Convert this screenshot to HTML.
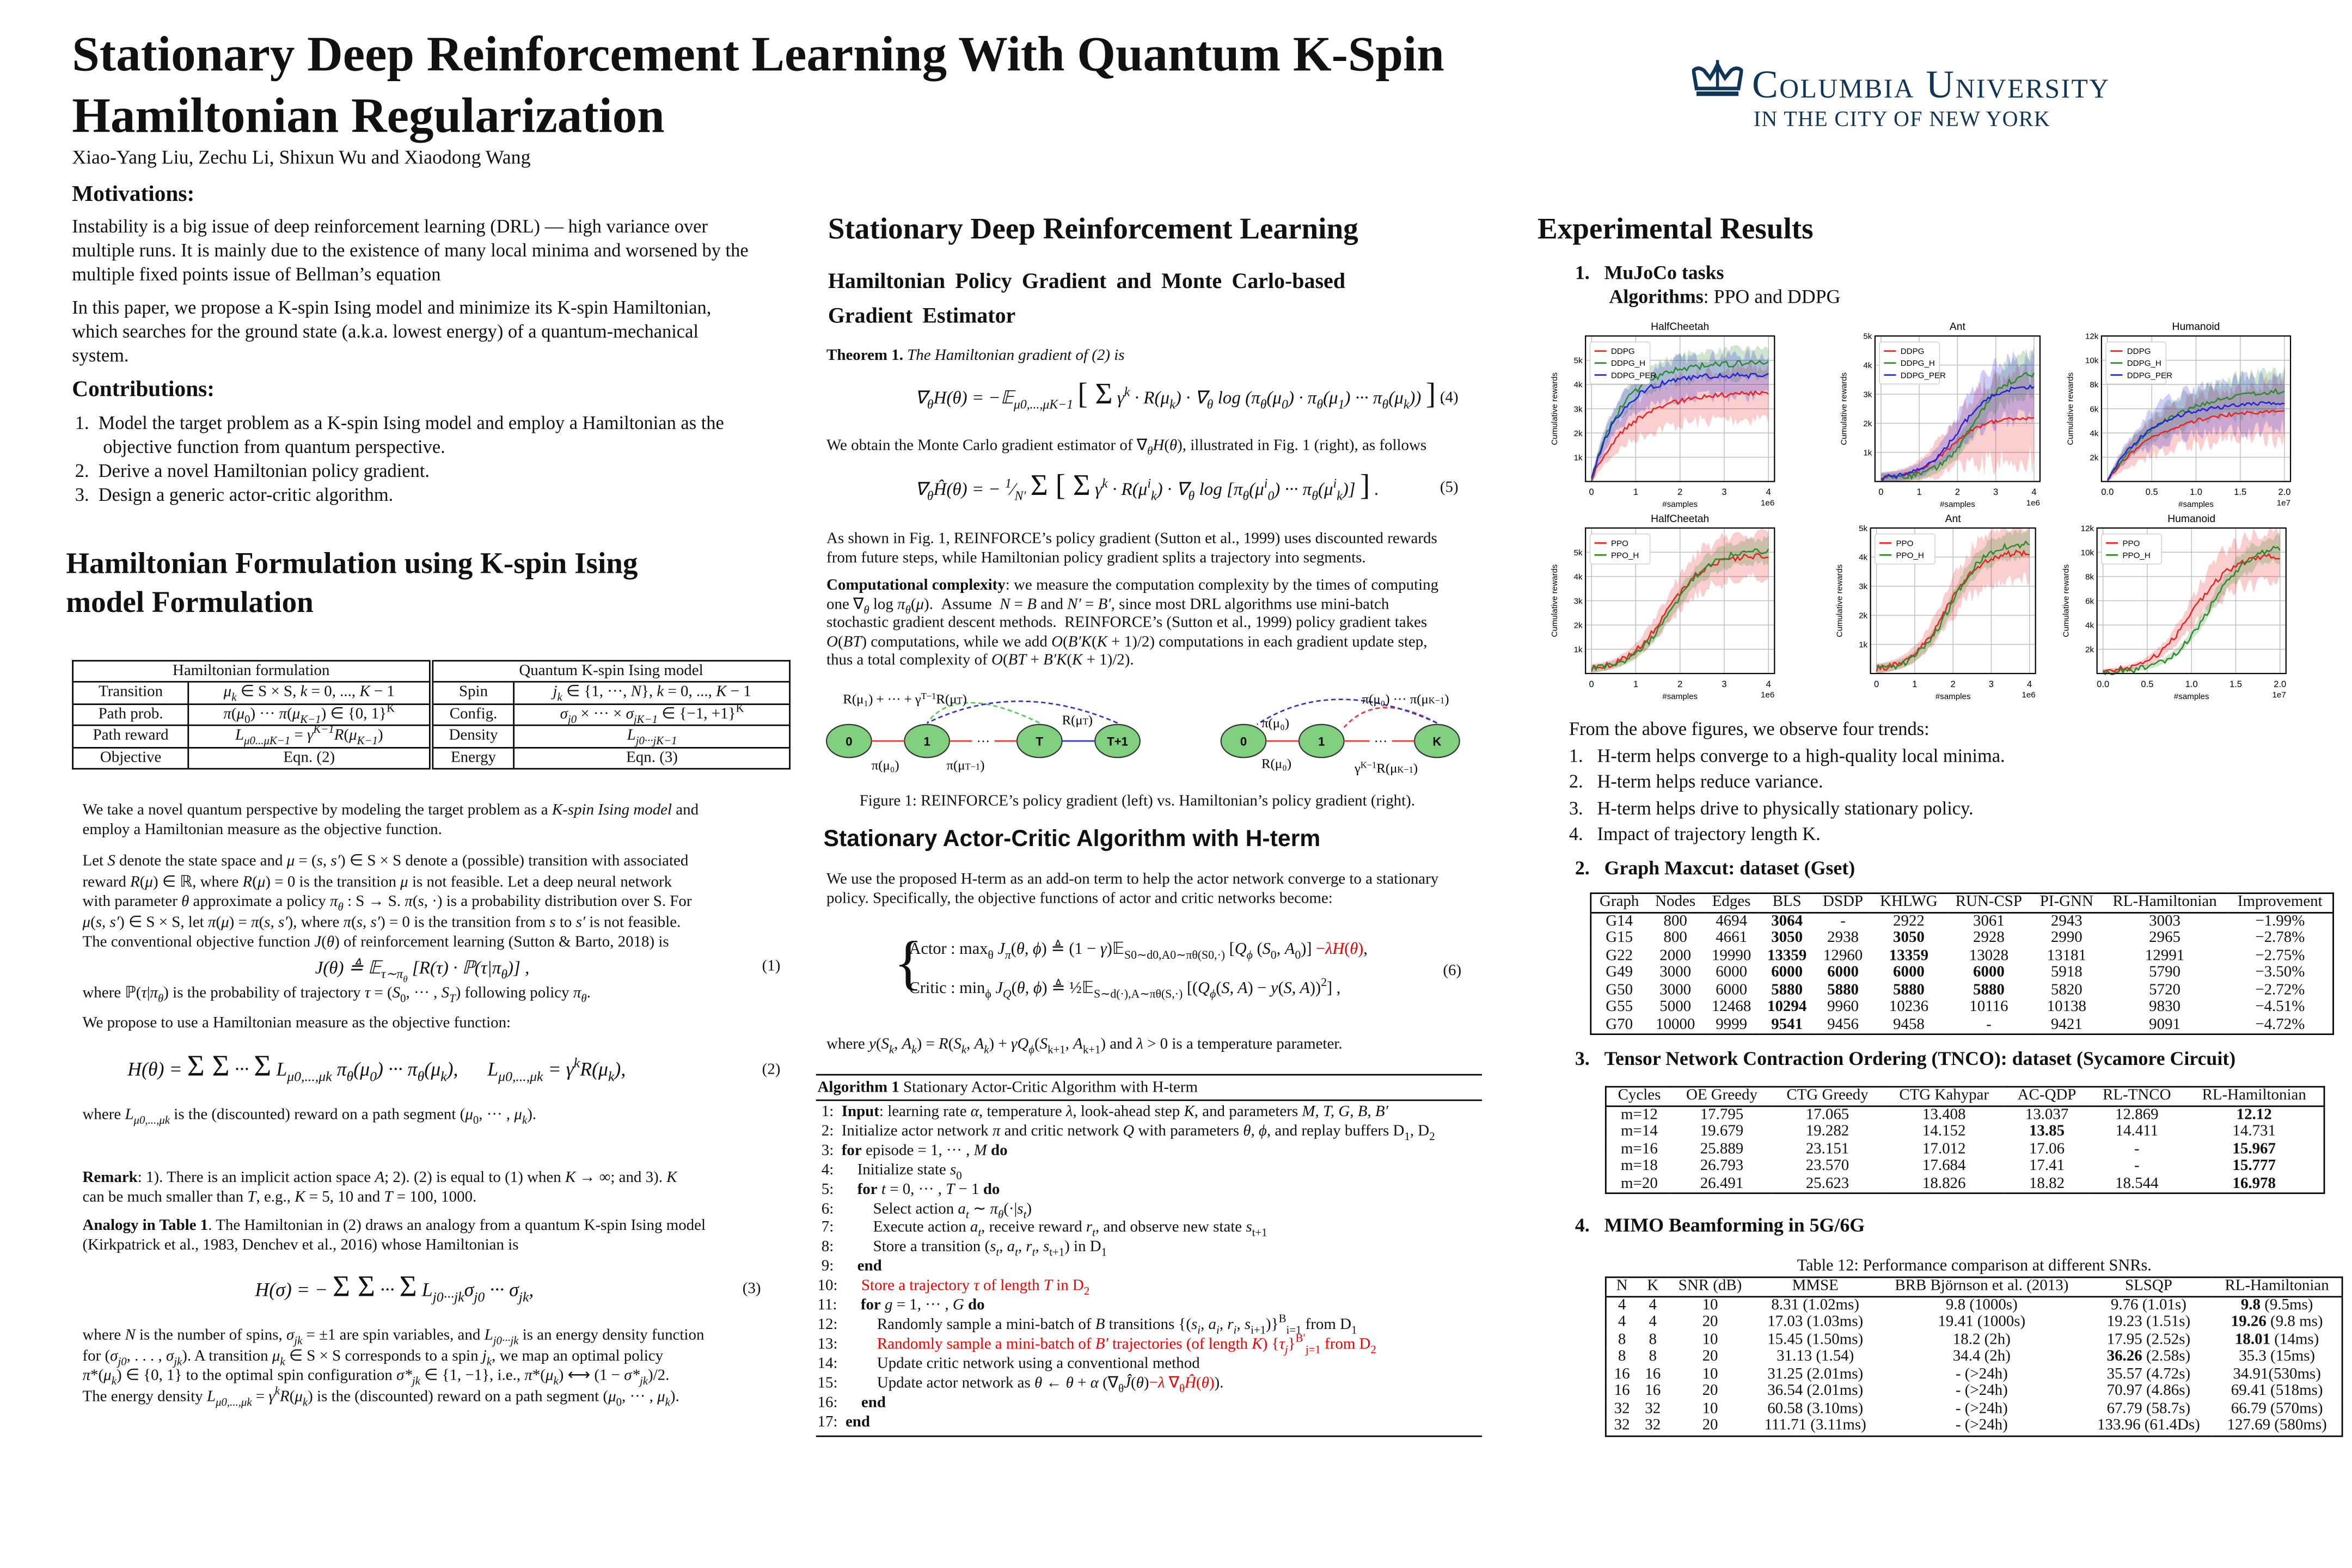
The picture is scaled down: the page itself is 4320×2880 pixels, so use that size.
<!DOCTYPE html>
<html><head><meta charset="utf-8">
<style>
html,body{margin:0;padding:0;background:#fff;}
body{width:4320px;height:2880px;overflow:hidden;position:relative;}
#s{position:absolute;left:0;top:0;width:1568px;height:1045px;transform:scale(2.7551);transform-origin:0 0;font-family:"Liberation Serif",serif;color:#111;}
sub,sup{line-height:0;font-size:72%;}
.a{position:absolute;white-space:nowrap;}
.h1{font-weight:bold;font-size:33px;}
.h2{font-weight:bold;font-size:20px;}
.h3{font-weight:bold;font-size:15px;}
.p{font-size:12.5px;line-height:16px;}
.q{font-size:10.5px;line-height:12.5px;}
.eq{font-size:12px;font-style:italic;line-height:14px;}
.big{font-size:20px;font-style:normal;line-height:0;}
table{border-collapse:collapse;}
.t td{padding:0 4px;text-align:center;font-size:10.5px;line-height:11.5px;}
.t1 td{line-height:13.4px;}
.t{border-top:1px solid #000;border-bottom:1px solid #000;}
.red{color:#e00;}
</style></head><body><div id="s">

<div class="a h1" style="left:48px;top:19px;">Stationary Deep Reinforcement Learning With Quantum K-Spin</div>
<div class="a h1" style="left:48px;top:60px;">Hamiltonian Regularization</div>
<div class="a" style="left:48px;top:97px;font-size:13px;">Xiao-Yang Liu, Zechu Li, Shixun Wu and Xiaodong Wang</div>

<svg class="a" style="left:1128px;top:40px" width="34" height="26" viewBox="0 0 34 26"><g fill="#0f3558"><rect x="3" y="21" width="28" height="3"/><path d="M3 19 L1 7 Q4 4 8 7 L12 12 L15 7 L17 3 L19 7 L22 12 L26 7 Q30 4 33 7 L31 19 Z" fill="none" stroke="#0f3558" stroke-width="2.4"/><rect x="16" y="0" width="2" height="19"/></g></svg>
<div class="a" style="left:1168px;top:42px;font-size:26px;color:#0f3558;letter-spacing:0.9px;font-variant:small-caps;">Columbia University</div>
<div class="a" style="left:1169px;top:72px;font-size:14.5px;color:#0f3558;letter-spacing:0.5px;">IN THE CITY OF NEW YORK</div>

<!-- column 1 -->
<div class="a h3" style="left:48px;top:122px;">Motivations:</div>
<div class="a p" style="left:48px;top:143px;">Instability is a big issue of deep reinforcement learning (DRL) — high variance over<br>multiple runs. It is mainly due to the existence of many local minima and worsened by the<br>multiple fixed points issue of Bellman’s equation</div>
<div class="a p" style="left:48px;top:197px;">In this paper, we propose a K-spin Ising model and minimize its K-spin Hamiltonian,<br>which searches for the ground state (a.k.a. lowest energy) of a quantum-mechanical<br>system.</div>
<div class="a h3" style="left:48px;top:252px;">Contributions:</div>
<div class="a p" style="left:50px;top:274px;">1.&nbsp;&nbsp;Model the target problem as a K-spin Ising model and employ a Hamiltonian as the<br>&nbsp;&nbsp;&nbsp;&nbsp;&nbsp;&nbsp;objective function from quantum perspective.<br>2.&nbsp;&nbsp;Derive a novel Hamiltonian policy gradient.<br>3.&nbsp;&nbsp;Design a generic actor-critic algorithm.</div>
<div class="a h2" style="left:44px;top:363px;line-height:26px;">Hamiltonian Formulation using K-spin Ising<br>model Formulation</div>

<div class="a" style="left:48px;top:440px;">
<table class="t t1" style="width:479px;border:1px solid #000;">
<tr style="border-bottom:1px solid #000"><td colspan="2" style="border-right:3px double #000">Hamiltonian formulation</td><td colspan="2">Quantum K-spin Ising model</td></tr>
<tr><td style="border-right:1px solid #000;border-bottom:1px solid #000">Transition</td><td style="border-right:3px double #000;border-bottom:1px solid #000"><i>μ<sub>k</sub></i> ∈ S × S, <i>k</i> = 0, ..., <i>K</i> − 1</td><td style="border-right:1px solid #000;border-bottom:1px solid #000">Spin</td><td style="border-bottom:1px solid #000"><i>j<sub>k</sub></i> ∈ {1, ···, <i>N</i>}, <i>k</i> = 0, ..., <i>K</i> − 1</td></tr>
<tr><td style="border-right:1px solid #000;border-bottom:1px solid #000">Path prob.</td><td style="border-right:3px double #000;border-bottom:1px solid #000"><i>π</i>(<i>μ</i><sub>0</sub>) ··· <i>π</i>(<i>μ<sub>K−1</sub></i>) ∈ {0, 1}<sup>K</sup></td><td style="border-right:1px solid #000;border-bottom:1px solid #000">Config.</td><td style="border-bottom:1px solid #000"><i>σ<sub>j0</sub></i> × ··· × <i>σ<sub>jK−1</sub></i> ∈ {−1, +1}<sup>K</sup></td></tr>
<tr><td style="border-right:1px solid #000;border-bottom:1px solid #000">Path reward</td><td style="border-right:3px double #000;border-bottom:1px solid #000"><i>L<sub>μ0...μK−1</sub></i> = <i>γ<sup>K−1</sup>R</i>(<i>μ<sub>K−1</sub></i>)</td><td style="border-right:1px solid #000;border-bottom:1px solid #000">Density</td><td style="border-bottom:1px solid #000"><i>L<sub>j0···jK−1</sub></i></td></tr>
<tr><td style="border-right:1px solid #000">Objective</td><td style="border-right:3px double #000">Eqn. (2)</td><td style="border-right:1px solid #000">Energy</td><td>Eqn. (3)</td></tr>
</table></div>

<div class="a q" style="left:55px;top:535px;">We take a novel quantum perspective by modeling the target problem as a <i>K-spin Ising model</i> and<br>employ a Hamiltonian measure as the objective function.</div>
<div class="a q" style="left:55px;top:568px;line-height:13.5px;">Let <i>S</i> denote the state space and <i>μ</i> = (<i>s, s′</i>) ∈ S × S denote a (possible) transition with associated<br>reward <i>R</i>(<i>μ</i>) ∈ ℝ, where <i>R</i>(<i>μ</i>) = 0 is the transition <i>μ</i> is not feasible. Let a deep neural network<br>with parameter <i>θ</i> approximate a policy <i>π<sub>θ</sub></i> : S → S. <i>π</i>(<i>s</i>, ·) is a probability distribution over S. For<br><i>μ</i>(<i>s, s′</i>) ∈ S × S, let <i>π</i>(<i>μ</i>) = <i>π</i>(<i>s, s′</i>), where <i>π</i>(<i>s, s′</i>) = 0 is the transition from <i>s</i> to <i>s′</i> is not feasible.<br>The conventional objective function <i>J</i>(<i>θ</i>) of reinforcement learning (Sutton &amp; Barto, 2018) is</div>
<div class="a eq" style="left:210px;top:638px;">J(θ) ≜ 𝔼<sub>τ∼π<sub>θ</sub></sub> [R(τ) · ℙ(τ|π<sub>θ</sub>)] ,</div>
<div class="a q" style="left:508px;top:639px;">(1)</div>
<div class="a q" style="left:55px;top:657px;">where ℙ(<i>τ</i>|<i>π<sub>θ</sub></i>) is the probability of trajectory <i>τ</i> = (<i>S</i><sub>0</sub>, ··· , <i>S<sub>T</sub></i>) following policy <i>π<sub>θ</sub></i>.</div>
<div class="a q" style="left:55px;top:677px;">We propose to use a Hamiltonian measure as the objective function:</div>
<div class="a eq" style="left:85px;top:706px;font-size:13px;">H(θ) = <span class="big">Σ Σ</span> ··· <span class="big">Σ</span> L<sub>μ0,...,μk</sub> π<sub>θ</sub>(μ<sub>0</sub>) ··· π<sub>θ</sub>(μ<sub>k</sub>),&nbsp;&nbsp;&nbsp;&nbsp;&nbsp; L<sub>μ0,...,μk</sub> = γ<sup>k</sup>R(μ<sub>k</sub>),</div>
<div class="a q" style="left:508px;top:708px;">(2)</div>
<div class="a q" style="left:55px;top:738px;">where <i>L<sub>μ0,...,μk</sub></i> is the (discounted) reward on a path segment (<i>μ</i><sub>0</sub>, ··· , <i>μ<sub>k</sub></i>).</div>
<div class="a q" style="left:55px;top:780px;"><b>Remark</b>: 1). There is an implicit action space <i>A</i>; 2). (2) is equal to (1) when <i>K</i> → ∞; and 3). <i>K</i><br>can be much smaller than <i>T</i>, e.g., <i>K</i> = 5, 10 and <i>T</i> = 100, 1000.</div>
<div class="a q" style="left:55px;top:812px;"><b>Analogy in Table 1</b>. The Hamiltonian in (2) draws an analogy from a quantum K-spin Ising model<br>(Kirkpatrick et al., 1983, Denchev et al., 2016) whose Hamiltonian is</div>
<div class="a eq" style="left:170px;top:853px;font-size:13px;">H(σ) = − <span class="big">Σ Σ</span> ··· <span class="big">Σ</span> L<sub>j0···jk</sub>σ<sub>j0</sub> ··· σ<sub>jk</sub>,</div>
<div class="a q" style="left:495px;top:854px;">(3)</div>
<div class="a q" style="left:55px;top:884px;line-height:13.5px;">where <i>N</i> is the number of spins, <i>σ<sub>jk</sub></i> = ±1 are spin variables, and <i>L<sub>j0···jk</sub></i> is an energy density function<br>for (<i>σ<sub>j0</sub></i>, . . . , <i>σ<sub>jk</sub></i>). A transition <i>μ<sub>k</sub></i> ∈ S × S corresponds to a spin <i>j<sub>k</sub></i>, we map an optimal policy<br><i>π</i>*(<i>μ<sub>k</sub></i>) ∈ {0, 1} to the optimal spin configuration <i>σ*<sub>jk</sub></i> ∈ {1, −1}, i.e., <i>π</i>*(<i>μ<sub>k</sub></i>) ⟷ (1 − <i>σ*<sub>jk</sub></i>)/2.<br>The energy density <i>L<sub>μ0,...,μk</sub></i> = <i>γ<sup>k</sup>R</i>(<i>μ<sub>k</sub></i>) is the (discounted) reward on a path segment (<i>μ</i><sub>0</sub>, ··· , <i>μ<sub>k</sub></i>).</div>

<!-- column 2 -->
<div class="a h2" style="left:552px;top:142px;">Stationary Deep Reinforcement Learning</div>
<div class="a" style="left:552px;top:177px;font-weight:bold;font-size:14.5px;line-height:23px;word-spacing:3px;">Hamiltonian Policy Gradient and Monte Carlo-based<br>Gradient Estimator</div>
<div class="a q" style="left:551px;top:232px;"><b>Theorem 1.</b> <i>The Hamiltonian gradient of (2) is</i></div>
<div class="a eq" style="left:610px;top:258px;">∇<sub>θ</sub>H(θ) = −𝔼<sub>μ0,...,μK−1</sub> <span class="big">[ Σ</span> γ<sup>k</sup> · R(μ<sub>k</sub>) · ∇<sub>θ</sub> log (π<sub>θ</sub>(μ<sub>0</sub>) · π<sub>θ</sub>(μ<sub>1</sub>) ··· π<sub>θ</sub>(μ<sub>k</sub>)) <span class="big">]</span> .</div>
<div class="a q" style="left:960px;top:260px;">(4)</div>
<div class="a q" style="left:551px;top:292px;">We obtain the Monte Carlo gradient estimator of ∇<i><sub>θ</sub>H</i>(<i>θ</i>), illustrated in Fig. 1 (right), as follows</div>
<div class="a eq" style="left:610px;top:319px;">∇<sub>θ</sub>Ĥ(θ) = − <sup>1</sup>⁄<sub>N′</sub> <span class="big">Σ [ Σ</span> γ<sup>k</sup> · R(μ<sup>i</sup><sub>k</sub>) · ∇<sub>θ</sub> log [π<sub>θ</sub>(μ<sup>i</sup><sub>0</sub>) ··· π<sub>θ</sub>(μ<sup>i</sup><sub>k</sub>)] <span class="big">]</span> .</div>
<div class="a q" style="left:960px;top:320px;">(5)</div>
<div class="a q" style="left:551px;top:354px;">As shown in Fig. 1, REINFORCE’s policy gradient (Sutton et al., 1999) uses discounted rewards<br>from future steps, while Hamiltonian policy gradient splits a trajectory into segments.</div>
<div class="a q" style="left:551px;top:385px;"><b>Computational complexity</b>: we measure the computation complexity by the times of computing<br>one ∇<sub><i>θ</i></sub> log <i>π<sub>θ</sub></i>(<i>μ</i>). &nbsp;Assume &nbsp;<i>N</i> = <i>B</i> and <i>N′</i> = <i>B′</i>, since most DRL algorithms use mini-batch<br>stochastic gradient descent methods. &nbsp;REINFORCE’s (Sutton et al., 1999) policy gradient takes<br><i>O</i>(<i>BT</i>) computations, while we add <i>O</i>(<i>B′K</i>(<i>K</i> + 1)/2) computations in each gradient update step,<br>thus a total complexity of <i>O</i>(<i>BT</i> + <i>B′K</i>(<i>K</i> + 1)/2).</div>

<svg class="a" style="left:548px;top:455px" width="440" height="70" viewBox="0 0 440 70" font-family="Liberation Serif" font-size="9">
<g fill="#7fcf7f" stroke="#333" stroke-width="0.8">
<ellipse cx="18" cy="39" rx="15" ry="11"/><ellipse cx="70" cy="39" rx="15" ry="11"/><ellipse cx="145" cy="39" rx="15" ry="11"/><ellipse cx="197" cy="39" rx="15" ry="11"/>
<ellipse cx="281" cy="39" rx="15" ry="11"/><ellipse cx="333" cy="39" rx="15" ry="11"/><ellipse cx="410" cy="39" rx="15" ry="11"/></g>
<g font-weight="bold" font-family="Liberation Sans" font-size="8" text-anchor="middle"><text x="18" y="42">0</text><text x="70" y="42">1</text><text x="145" y="42">T</text><text x="197" y="42">T+1</text><text x="281" y="42">0</text><text x="333" y="42">1</text><text x="410" y="42">K</text></g>
<g stroke="#e33" stroke-width="1"><line x1="33" y1="39" x2="55" y2="39"/><line x1="85" y1="39" x2="100" y2="39"/><line x1="115" y1="39" x2="130" y2="39"/><line x1="296" y1="39" x2="318" y2="39"/><line x1="348" y1="39" x2="365" y2="39"/><line x1="380" y1="39" x2="395" y2="39"/></g>
<line x1="160" y1="39" x2="182" y2="39" stroke="#33c"/>
<text x="103" y="42">···</text><text x="368" y="42">···</text>
<path d="M145 27 Q90 0 70 27" fill="none" stroke="#5c5" stroke-dasharray="3,2"/>
<path d="M197 27 Q130 -2 70 27" fill="none" stroke="#33c" stroke-dasharray="3,2"/>
<path d="M410 27 Q370 5 348 30" fill="none" stroke="#e33" stroke-dasharray="3,2"/>
<path d="M410 27 Q340 -5 290 28" fill="none" stroke="#33c" stroke-dasharray="3,2"/>
<text x="14" y="14">R(μ₁) + ··· + γ<tspan font-size="6" dy="-3">T−1</tspan><tspan dy="3">R(μ<tspan font-size="6">T</tspan>)</tspan></text>
<text x="160" y="28">R(μ<tspan font-size="6">T</tspan>)</text>
<text x="33" y="58">π(μ₀)</text><text x="83" y="58">π(μ<tspan font-size="6">T−1</tspan>)</text>
<text x="360" y="14">π(μ₀) ··· π(μ<tspan font-size="6">K−1</tspan>)</text>
<text x="293" y="30">π(μ₀)</text><text x="293" y="57">R(μ₀)</text><text x="355" y="60">γ<tspan font-size="6" dy="-3">K−1</tspan><tspan dy="3">R(μ<tspan font-size="6">K−1</tspan>)</tspan></text>
</svg>
<div class="a q" style="left:573px;top:529px;">Figure 1: REINFORCE’s policy gradient (left) vs. Hamiltonian’s policy gradient (right).</div>

<div class="a" style="left:549px;top:551px;font-weight:bold;font-size:15.5px;font-family:'Liberation Sans',sans-serif;">Stationary Actor-Critic Algorithm with H-term</div>
<div class="a q" style="left:551px;top:581px;">We use the proposed H-term as an add-on term to help the actor network converge to a stationary<br>policy. Specifically, the objective functions of actor and critic networks become:</div>
<div class="a" style="left:596px;top:612px;font-size:40px;font-weight:100;line-height:60px;">{</div>
<div class="a eq" style="left:606px;top:626px;font-style:normal;font-size:11px;">Actor : max<sub>θ</sub> <i>J<sub>π</sub></i>(<i>θ, ϕ</i>) ≜ (1 − <i>γ</i>)𝔼<sub>S0∼d0,A0∼πθ(S0,·)</sub> [<i>Q<sub>ϕ</sub></i> (<i>S</i><sub>0</sub>, <i>A</i><sub>0</sub>)] <span class="red">−<i>λH</i>(<i>θ</i>)</span>,</div>
<div class="a eq" style="left:606px;top:652px;font-style:normal;font-size:11px;">Critic : min<sub>ϕ</sub> <i>J<sub>Q</sub></i>(<i>θ, ϕ</i>) ≜ ½𝔼<sub>S∼d(·),A∼πθ(S,·)</sub> [(<i>Q<sub>ϕ</sub></i>(<i>S, A</i>) − <i>y</i>(<i>S, A</i>))<sup>2</sup>] ,</div>
<div class="a q" style="left:962px;top:642px;">(6)</div>
<div class="a q" style="left:551px;top:691px;">where <i>y</i>(<i>S<sub>k</sub></i>, <i>A<sub>k</sub></i>) = <i>R</i>(<i>S<sub>k</sub></i>, <i>A<sub>k</sub></i>) + <i>γQ<sub>ϕ</sub></i>(<i>S</i><sub>k+1</sub>, <i>A</i><sub>k+1</sub>) and <i>λ</i> &gt; 0 is a temperature parameter.</div>

<div class="a" style="left:544px;top:716px;width:444px;border-top:1.2px solid #000;"></div>
<div class="a q" style="left:545px;top:720px;"><b>Algorithm 1</b> Stationary Actor-Critic Algorithm with H-term</div>
<div class="a" style="left:544px;top:733px;width:444px;border-top:0.8px solid #000;"></div>
<div class="a" style="left:545px;top:736px;font-size:10.5px;line-height:12.9px;">
&nbsp;1: &nbsp;<b>Input</b>: learning rate <i>α</i>, temperature <i>λ</i>, look-ahead step <i>K</i>, and parameters <i>M, T, G, B, B′</i><br>
&nbsp;2: &nbsp;Initialize actor network <i>π</i> and critic network <i>Q</i> with parameters <i>θ, ϕ</i>, and replay buffers D<sub>1</sub>, D<sub>2</sub><br>
&nbsp;3: &nbsp;<b>for</b> episode = 1, ··· , <i>M</i> <b>do</b><br>
&nbsp;4: &nbsp;&nbsp;&nbsp;&nbsp;&nbsp;Initialize state <i>s</i><sub>0</sub><br>
&nbsp;5: &nbsp;&nbsp;&nbsp;&nbsp;&nbsp;<b>for</b> <i>t</i> = 0, ··· , <i>T</i> − 1 <b>do</b><br>
&nbsp;6: &nbsp;&nbsp;&nbsp;&nbsp;&nbsp;&nbsp;&nbsp;&nbsp;&nbsp;Select action <i>a<sub>t</sub></i> ∼ <i>π<sub>θ</sub></i>(·|<i>s<sub>t</sub></i>)<br>
&nbsp;7: &nbsp;&nbsp;&nbsp;&nbsp;&nbsp;&nbsp;&nbsp;&nbsp;&nbsp;Execute action <i>a<sub>t</sub></i>, receive reward <i>r<sub>t</sub></i>, and observe new state <i>s</i><sub>t+1</sub><br>
&nbsp;8: &nbsp;&nbsp;&nbsp;&nbsp;&nbsp;&nbsp;&nbsp;&nbsp;&nbsp;Store a transition (<i>s<sub>t</sub>, a<sub>t</sub>, r<sub>t</sub>, s</i><sub>t+1</sub>) in D<sub>1</sub><br>
&nbsp;9: &nbsp;&nbsp;&nbsp;&nbsp;&nbsp;<b>end</b><br>
10: &nbsp;&nbsp;&nbsp;&nbsp;&nbsp;<span class="red">Store a trajectory <i>τ</i> of length <i>T</i> in D<sub>2</sub></span><br>
11: &nbsp;&nbsp;&nbsp;&nbsp;&nbsp;<b>for</b> <i>g</i> = 1, ··· , <i>G</i> <b>do</b><br>
12: &nbsp;&nbsp;&nbsp;&nbsp;&nbsp;&nbsp;&nbsp;&nbsp;&nbsp;Randomly sample a mini-batch of <i>B</i> transitions {(<i>s<sub>i</sub>, a<sub>i</sub>, r<sub>i</sub>, s</i><sub>i+1</sub>)}<sup>B</sup><sub>i=1</sub> from D<sub>1</sub><br>
13: &nbsp;&nbsp;&nbsp;&nbsp;&nbsp;&nbsp;&nbsp;&nbsp;&nbsp;<span class="red">Randomly sample a mini-batch of <i>B′</i> trajectories (of length <i>K</i>) {<i>τ<sub>j</sub></i>}<sup>B′</sup><sub>j=1</sub> from D<sub>2</sub></span><br>
14: &nbsp;&nbsp;&nbsp;&nbsp;&nbsp;&nbsp;&nbsp;&nbsp;&nbsp;Update critic network using a conventional method<br>
15: &nbsp;&nbsp;&nbsp;&nbsp;&nbsp;&nbsp;&nbsp;&nbsp;&nbsp;Update actor network as <i>θ</i> ← <i>θ</i> + <i>α</i> (∇<sub>θ</sub><i>Ĵ</i>(<i>θ</i>)<span class="red">−<i>λ</i> ∇<sub>θ</sub><i>Ĥ</i>(<i>θ</i>)</span>).<br>
16: &nbsp;&nbsp;&nbsp;&nbsp;&nbsp;<b>end</b><br>
17: &nbsp;<b>end</b></div>
<div class="a" style="left:544px;top:957px;width:444px;border-top:1px solid #000;"></div>

<!-- column 3 -->
<div class="a h2" style="left:1025px;top:142px;">Experimental Results</div>
<div class="a" style="left:1050px;top:174px;font-size:13px;line-height:16px;"><b>1.&nbsp;&nbsp;&nbsp;MuJoCo tasks</b><br>&nbsp;&nbsp;&nbsp;&nbsp;&nbsp;&nbsp;&nbsp;<b>Algorithms</b>: PPO and DDPG</div>

<svg id="ch" class="a" style="left:1025px;top:205px" width="530" height="270" font-family="Liberation Sans" font-size="6"></svg>

<div class="a p" style="left:1046px;top:478px;line-height:17.5px;">From the above figures, we observe four trends:<br>1.&nbsp;&nbsp;&nbsp;H-term helps converge to a high-quality local minima.<br>2.&nbsp;&nbsp;&nbsp;H-term helps reduce variance.<br>3.&nbsp;&nbsp;&nbsp;H-term helps drive to physically stationary policy.<br>4.&nbsp;&nbsp;&nbsp;Impact of trajectory length K.</div>
<div class="a" style="left:1050px;top:571px;font-size:13px;font-weight:bold;">2.&nbsp;&nbsp;&nbsp;Graph Maxcut: dataset (Gset)</div>
<div class="a" style="left:1060px;top:595px;">
<table class="t" style="width:496px;border:1px solid #000;">
<tr style="border-bottom:1px solid #000"><td>Graph</td><td>Nodes</td><td>Edges</td><td>BLS</td><td>DSDP</td><td>KHLWG</td><td>RUN-CSP</td><td>PI-GNN</td><td>RL-Hamiltonian</td><td>Improvement</td></tr>
<tr><td>G14</td><td>800</td><td>4694</td><td><b>3064</b></td><td>-</td><td>2922</td><td>3061</td><td>2943</td><td>3003</td><td>−1.99%</td></tr>
<tr><td>G15</td><td>800</td><td>4661</td><td><b>3050</b></td><td>2938</td><td><b>3050</b></td><td>2928</td><td>2990</td><td>2965</td><td>−2.78%</td></tr>
<tr><td>G22</td><td>2000</td><td>19990</td><td><b>13359</b></td><td>12960</td><td><b>13359</b></td><td>13028</td><td>13181</td><td>12991</td><td>−2.75%</td></tr>
<tr><td>G49</td><td>3000</td><td>6000</td><td><b>6000</b></td><td><b>6000</b></td><td><b>6000</b></td><td><b>6000</b></td><td>5918</td><td>5790</td><td>−3.50%</td></tr>
<tr><td>G50</td><td>3000</td><td>6000</td><td><b>5880</b></td><td><b>5880</b></td><td><b>5880</b></td><td><b>5880</b></td><td>5820</td><td>5720</td><td>−2.72%</td></tr>
<tr><td>G55</td><td>5000</td><td>12468</td><td><b>10294</b></td><td>9960</td><td>10236</td><td>10116</td><td>10138</td><td>9830</td><td>−4.51%</td></tr>
<tr><td>G70</td><td>10000</td><td>9999</td><td><b>9541</b></td><td>9456</td><td>9458</td><td>-</td><td>9421</td><td>9091</td><td>−4.72%</td></tr>
</table></div>
<div class="a" style="left:1050px;top:698px;font-size:13px;font-weight:bold;">3.&nbsp;&nbsp;&nbsp;Tensor Network Contraction Ordering (TNCO): dataset (Sycamore Circuit)</div>
<div class="a" style="left:1070px;top:724px;">
<table class="t" style="width:480px;border:1px solid #000;">
<tr style="border-bottom:1px solid #000"><td>Cycles</td><td>OE Greedy</td><td>CTG Greedy</td><td>CTG Kahypar</td><td>AC-QDP</td><td>RL-TNCO</td><td>RL-Hamiltonian</td></tr>
<tr><td>m=12</td><td>17.795</td><td>17.065</td><td>13.408</td><td>13.037</td><td>12.869</td><td><b>12.12</b></td></tr>
<tr><td>m=14</td><td>19.679</td><td>19.282</td><td>14.152</td><td><b>13.85</b></td><td>14.411</td><td>14.731</td></tr>
<tr><td>m=16</td><td>25.889</td><td>23.151</td><td>17.012</td><td>17.06</td><td>-</td><td><b>15.967</b></td></tr>
<tr><td>m=18</td><td>26.793</td><td>23.570</td><td>17.684</td><td>17.41</td><td>-</td><td><b>15.777</b></td></tr>
<tr><td>m=20</td><td>26.491</td><td>25.623</td><td>18.826</td><td>18.82</td><td>18.544</td><td><b>16.978</b></td></tr>
</table></div>
<div class="a" style="left:1050px;top:809px;font-size:13px;font-weight:bold;">4.&nbsp;&nbsp;&nbsp;MIMO Beamforming in 5G/6G</div>
<div class="a" style="left:1198px;top:838px;font-size:11px;">Table 12: Performance comparison at different SNRs.</div>
<div class="a" style="left:1070px;top:851px;">
<table class="t" style="width:492px;border:1px solid #000;">
<tr style="border-bottom:1px solid #000"><td>N</td><td>K</td><td>SNR (dB)</td><td>MMSE</td><td>BRB Björnson et al. (2013)</td><td>SLSQP</td><td>RL-Hamiltonian</td></tr>
<tr><td>4</td><td>4</td><td>10</td><td>8.31 (1.02ms)</td><td>9.8 (1000s)</td><td>9.76 (1.01s)</td><td><b>9.8</b> (9.5ms)</td></tr>
<tr><td>4</td><td>4</td><td>20</td><td>17.03 (1.03ms)</td><td>19.41 (1000s)</td><td>19.23 (1.51s)</td><td><b>19.26</b> (9.8 ms)</td></tr>
<tr><td>8</td><td>8</td><td>10</td><td>15.45 (1.50ms)</td><td>18.2 (2h)</td><td>17.95 (2.52s)</td><td><b>18.01</b> (14ms)</td></tr>
<tr><td>8</td><td>8</td><td>20</td><td>31.13 (1.54)</td><td>34.4 (2h)</td><td><b>36.26</b> (2.58s)</td><td>35.3 (15ms)</td></tr>
<tr><td>16</td><td>16</td><td>10</td><td>31.25 (2.01ms)</td><td>- (&gt;24h)</td><td>35.57 (4.72s)</td><td>34.91(530ms)</td></tr>
<tr><td>16</td><td>16</td><td>20</td><td>36.54 (2.01ms)</td><td>- (&gt;24h)</td><td>70.97 (4.86s)</td><td>69.41 (518ms)</td></tr>
<tr><td>32</td><td>32</td><td>10</td><td>60.58 (3.10ms)</td><td>- (&gt;24h)</td><td>67.79 (58.7s)</td><td>66.79 (570ms)</td></tr>
<tr><td>32</td><td>32</td><td>20</td><td>111.71 (3.11ms)</td><td>- (&gt;24h)</td><td>133.96 (61.4Ds)</td><td>127.69 (580ms)</td></tr>
</table></div>

</div>
<script>
(function(){
var svg=document.getElementById('ch');var NS='http://www.w3.org/2000/svg';
var seed=7;function rnd(){seed=(seed*16807)%2147483647;return seed/2147483647;}
function el(t,a,txt){var e=document.createElementNS(NS,t);for(var k in a)e.setAttribute(k,a[k]);if(txt!=null)e.textContent=txt;svg.appendChild(e);return e;}
var C={r:'#e82020',g:'#2a8a2a',b:'#2020e0'};
var plots=[
 {x:32,y:19,w:126,h:97,t:'HalfCheetah',ymax:6,yt:[1,2,3,4,5],xl:['0','1','2','3','4'],ex:'1e6',s:[['r',3.7,0.28,0.9],['g',4.9,0.22,0.45],['b',4.4,0.2,0.7]],leg:['DDPG','DDPG_H','DDPG_PER']},
 {x:225,y:19,w:110,h:97,t:'Ant',ymax:5,yt:[1,2,3,4,5],xl:['0','1','2','3','4'],ex:'1e6',s:[['r',2.2,0.45,1.3],['g',3.8,0.6,0.6],['b',3.3,0.5,0.9]],leg:['DDPG','DDPG_H','DDPG_PER'],sig:1},
 {x:376,y:19,w:126,h:97,t:'Humanoid',ymax:12,yt:[2,4,6,8,10,12],xl:['0.0','0.5','1.0','1.5','2.0'],ex:'1e7',s:[['r',6,0.35,2.2],['g',7.8,0.4,1.6],['b',6.6,0.3,2]],leg:['DDPG','DDPG_H','DDPG_PER']},
 {x:32,y:147,w:126,h:97,t:'HalfCheetah',ymax:6,yt:[1,2,3,4,5],xl:['0','1','2','3','4'],ex:'1e6',s:[['r',4.9,0.42,0.8],['g',5.1,0.45,0.35]],leg:['PPO','PPO_H'],sig:1},
 {x:222,y:147,w:110,h:97,t:'Ant',ymax:5,yt:[1,2,3,4,5],xl:['0','1','2','3','4'],ex:'1e6',s:[['r',4.2,0.45,0.8],['g',4.5,0.48,0.3]],leg:['PPO','PPO_H'],sig:1},
 {x:373,y:147,w:126,h:97,t:'Humanoid',ymax:12,yt:[2,4,6,8,10,12],xl:['0.0','0.5','1.0','1.5','2.0'],ex:'1e7',s:[['r',9.8,0.5,2],['g',10.6,0.6,0.9]],leg:['PPO','PPO_H'],sig:1}
];
plots.forEach(function(p){
 var X=function(f){return p.x+4+f*(p.w-8);};var Y=function(v){return p.y+p.h-(v/p.ymax)*p.h;};
 for(var i=0;i<5;i++)el('line',{x1:X(i/4),x2:X(i/4),y1:p.y,y2:p.y+p.h,stroke:'#bbb','stroke-width':0.5});
 p.yt.forEach(function(v){el('line',{x1:p.x,x2:p.x+p.w,y1:Y(v),y2:Y(v),stroke:'#bbb','stroke-width':0.5});el('text',{x:p.x-2,y:Y(v)+2,'text-anchor':'end','font-size':5.5},v+'k');});
 p.s.forEach(function(s){
  var n=80,up=[],lo=[];
  for(var i=0;i<=n;i++){var f=i/n;var c=p.sig?1/(1+Math.exp(-(f-s[2])*9)):1-Math.exp(-f/(s[2]*0.8));var v=0.1+(s[1]-0.1)*c;var w=s[3]*c*(0.6+rnd()*0.8)+0.15;
   up.push([X(f),Y(Math.min(p.ymax,v+w))]);lo.push([X(f),Y(Math.max(0,v-w))]);}
  var d='M'+up.map(function(q){return q.join(',');}).join('L')+'L'+lo.reverse().map(function(q){return q.join(',');}).join('L')+'Z';
  el('path',{d:d,fill:C[s[0]],'fill-opacity':0.22});
 });
 seed=p.x*3+p.y;
 p.s.forEach(function(s){var n=80,pts=[];for(var i=0;i<=n;i++){var f=i/n;var c=p.sig?1/(1+Math.exp(-(f-s[2])*9)):1-Math.exp(-f/(s[2]*0.8));var v=0.1+(s[1]-0.1)*c;pts.push(X(f)+','+Y(v+(rnd()-0.5)*s[1]*0.05));}
  el('polyline',{points:pts.join(' '),fill:'none',stroke:C[s[0]],'stroke-width':0.9});});
 el('rect',{x:p.x,y:p.y,width:p.w,height:p.h,fill:'none',stroke:'#000','stroke-width':0.8});
 el('text',{x:p.x+p.w/2,y:p.y-4,'text-anchor':'middle','font-size':7},p.t);
 p.xl.forEach(function(l,i){el('text',{x:X(i/4),y:p.y+p.h+9,'text-anchor':'middle','font-size':6},l);});
 el('text',{x:p.x+p.w/2,y:p.y+p.h+17,'text-anchor':'middle','font-size':5.5},'#samples');
 el('text',{x:p.x+p.w,y:p.y+p.h+16,'text-anchor':'end','font-size':5.5},p.ex);
 var ty=p.y+p.h/2;el('text',{x:p.x-19,y:ty,'text-anchor':'middle','font-size':5.5,transform:'rotate(-90 '+(p.x-19)+' '+ty+')'},'Cumulative rewards');
 var lh=p.leg.length*8+4;el('rect',{x:p.x+3,y:p.y+4,width:40,height:lh,fill:'#fff',stroke:'#ccc','stroke-width':0.5,rx:1.5});
 p.leg.forEach(function(l,i){var c=C[['r','g','b'][i]];el('line',{x1:p.x+6,x2:p.x+14,y1:p.y+10+i*8,y2:p.y+10+i*8,stroke:c,'stroke-width':1});el('text',{x:p.x+17,y:p.y+12+i*8,'font-size':5.5},l);});
});
})();
</script>
</body></html>
